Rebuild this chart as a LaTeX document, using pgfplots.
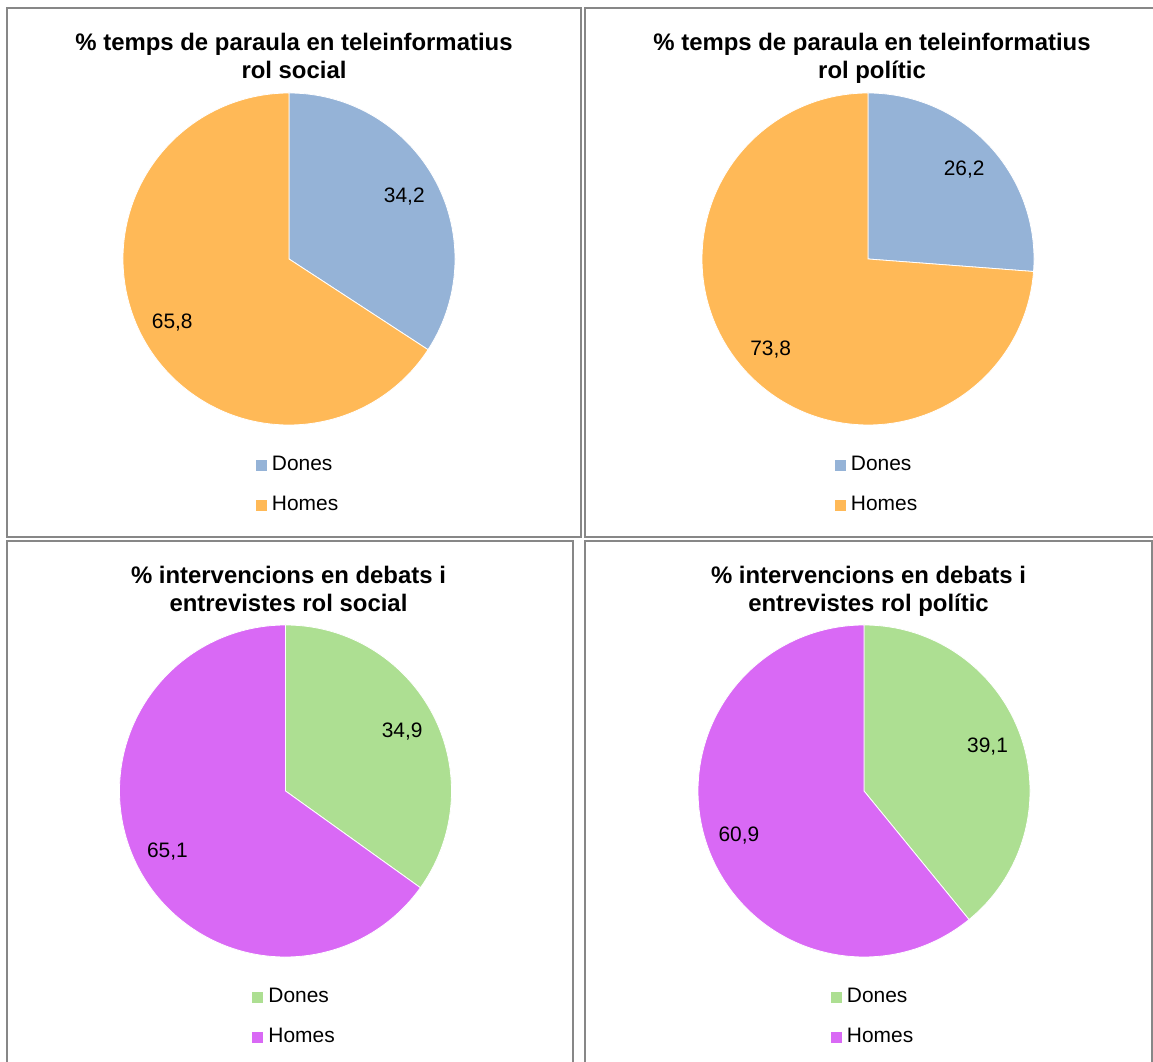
\documentclass[border=0pt]{standalone}
\usepackage{pgfplots}
\pgfplotsset{compat=1.18}
\usepackage{fontspec}
\setmainfont{Liberation Sans}
\definecolor{cBlue}{RGB}{149,179,215}
\definecolor{cOrange}{RGB}{255,185,87}
\definecolor{cGreen}{RGB}{173,223,146}
\definecolor{cMagenta}{RGB}{217,105,245}
\definecolor{cFrame}{RGB}{135,135,135}

% #1 cx, #2 cy (bp), #3 Dones %, #4 Homes %, #5 colour Dones, #6 colour Homes
\newcommand{\piechart}[6]{%
\pgfmathsetmacro\angD{90-3.6*#3}%
\pgfmathsetmacro\midD{90-1.8*#3}%
\pgfmathsetmacro\midH{\angD-1.8*#4}%
\pgfmathsetmacro\endH{\angD-3.6*#4}%
\begin{axis}[at={(#1bp,#2bp)}, anchor=center, width=332bp, height=332bp,
  scale only axis, hide axis, xmin=-1, xmax=1, ymin=-1, ymax=1, clip=false,
  /pgf/number format/.cd, use comma, fixed, precision=1, fixed zerofill, assume math mode=true, /pgfplots/.cd,
  legend image code/.code={\fill[##1, draw=none] (0bp,-5.5bp) rectangle (11bp,5.5bp);},
  legend cell align=left,
  legend style={draw=none, fill=none, inner sep=0pt, outer sep=0pt,
    font=\fontsize{21}{25}\selectfont, row sep=20bp, column sep=0pt,
    nodes={inner xsep=5bp, inner ysep=0pt, text height=15bp, text depth=5bp},
    at={(axis cs:-0.199,-1.181)}, anchor=north west}]
\addlegendimage{fill=#5}\addlegendentry{Dones}
\addlegendimage{fill=#6}\addlegendentry{Homes}
\fill[#5, draw=white, line width=0.8bp] (axis cs:0,0) -- (axis cs:0,1)
  arc[start angle=90, end angle=\angD, radius=166bp] -- cycle;
\fill[#6, draw=white, line width=0.8bp] (axis cs:0,0) -- (axis cs:{cos(\angD)},{sin(\angD)})
  arc[start angle=\angD, end angle=\endH, radius=166bp] -- cycle;
\node[font=\fontsize{21}{25}\selectfont] at (axis cs:{0.79*cos(\midD)},{0.79*sin(\midD)}) {\pgfmathprintnumber{#3}};
\node[font=\fontsize{21}{25}\selectfont] at (axis cs:{0.8*cos(\midH)},{0.8*sin(\midH)}) {\pgfmathprintnumber{#4}};
\end{axis}}

\begin{document}
\begin{tikzpicture}[x=1bp,y=1bp]
\clip (0,0) rectangle (1153,1062);
\fill[white] (0,0) rectangle (1153,1062);
\draw[cFrame, line width=2bp] (6.5,1054) rectangle (581,525);
\draw[cFrame, line width=2bp] (585,1054) rectangle (1165,525);
\draw[cFrame, line width=2bp] (6.5,521) rectangle (573,-10);
\draw[cFrame, line width=2bp] (585,521) rectangle (1152,-10);

\piechart{289}{803}{34.2}{65.8}{cBlue}{cOrange}
\piechart{868}{803}{26.2}{73.8}{cBlue}{cOrange}
\piechart{285.5}{271}{34.9}{65.1}{cGreen}{cMagenta}
\piechart{864}{271}{39.1}{60.9}{cGreen}{cMagenta}

\tikzset{ttl/.style={font=\bfseries\fontsize{24}{28}\selectfont, anchor=base, inner sep=0pt}}
\node[ttl] at (294,1011) {\% temps de paraula en teleinformatius};
\node[ttl] at (294,983) {rol social};
\node[ttl] at (872,1011) {\% temps de paraula en teleinformatius};
\node[ttl] at (872,983) {rol polític};
\node[ttl] at (288.5,478) {\% intervencions en debats i};
\node[ttl] at (288.5,450) {entrevistes rol social};
\node[ttl] at (868.5,478) {\% intervencions en debats i};
\node[ttl] at (868.5,450) {entrevistes rol polític};
\end{tikzpicture}
\end{document}
